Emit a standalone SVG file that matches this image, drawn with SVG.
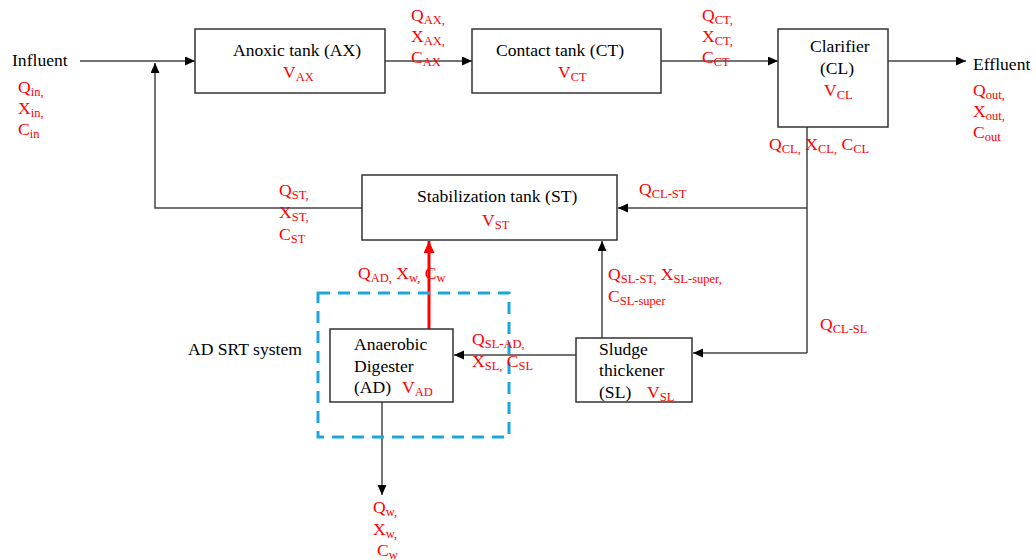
<svg xmlns="http://www.w3.org/2000/svg" width="1036" height="560" viewBox="0 0 1036 560">
<defs>
<style>
text{font-family:"Liberation Serif","Times New Roman",serif;font-size:17.6px;fill:#000}
.r{fill:#ff0000}
.s{font-size:12.5px}
.box{fill:#fff;stroke:#333;stroke-width:1.5}
.ln{fill:none;stroke:#444;stroke-width:1.5}
</style>
<marker id="ah" markerWidth="11" markerHeight="10" refX="10" refY="4.5" orient="auto" markerUnits="userSpaceOnUse">
<path d="M0,0 L10,4.5 L0,9 z" fill="#000"/>
</marker>
<marker id="ahr" markerWidth="13" markerHeight="12" refX="12" refY="5.5" orient="auto" markerUnits="userSpaceOnUse">
<path d="M0,0 L12,5.5 L0,11 z" fill="#ff0000"/>
</marker>
</defs>
<rect width="1036" height="560" fill="#fff"/>

<g id="connectors">
<line class="ln" x1="80" y1="61" x2="195" y2="61" marker-end="url(#ah)"/>
<polyline class="ln" points="362,208 155,208 155,63" marker-end="url(#ah)"/>
<line class="ln" x1="385" y1="61" x2="472" y2="61" marker-end="url(#ah)"/>
<line class="ln" x1="661" y1="61" x2="778" y2="61" marker-end="url(#ah)"/>
<line class="ln" x1="888" y1="61" x2="966" y2="61" marker-end="url(#ah)"/>
<line class="ln" x1="807" y1="127" x2="807" y2="353"/>
<line class="ln" x1="807" y1="208" x2="618" y2="208" marker-end="url(#ah)"/>
<line class="ln" x1="807" y1="353" x2="693" y2="353" marker-end="url(#ah)"/>
<line class="ln" x1="602" y1="338" x2="602" y2="241" marker-end="url(#ah)"/>
<line class="ln" x1="576" y1="355" x2="454" y2="355" marker-end="url(#ah)"/>
<line x1="429" y1="329" x2="429" y2="241" stroke="#ff0000" stroke-width="3" marker-end="url(#ahr)"/>
<line class="ln" x1="382" y1="402" x2="382" y2="495" marker-end="url(#ah)"/>
</g>

<g id="ad-srt-system">
<rect x="318" y="293" width="191" height="144" fill="none" stroke="#1aa7e0" stroke-width="3" stroke-dasharray="12,8"/>
<text x="188" y="355">AD SRT system</text>
</g>

<g id="influent">
<text x="12" y="66">Influent</text>
<text class="r" x="18" y="93">Q<tspan class="s" dy="3">in,</tspan></text>
<text class="r" x="18" y="114">X<tspan class="s" dy="3">in,</tspan></text>
<text class="r" x="18" y="135">C<tspan class="s" dy="3">in</tspan></text>
</g>

<g id="ax">
<rect class="box" x="195" y="29" width="190" height="64"/>
<text x="233" y="56">Anoxic tank (AX)</text>
<text class="r" x="283" y="78">V<tspan class="s" dy="3">AX</tspan></text>
</g>

<g id="ax-out">
<text class="r" x="411" y="21">Q<tspan class="s" dy="3">AX,</tspan></text>
<text class="r" x="411" y="42">X<tspan class="s" dy="3">AX,</tspan></text>
<text class="r" x="411" y="63">C<tspan class="s" dy="3">AX</tspan></text>
</g>

<g id="ct">
<rect class="box" x="472" y="29" width="189" height="64"/>
<text x="496" y="56">Contact tank (CT)</text>
<text class="r" x="558" y="78">V<tspan class="s" dy="3">CT</tspan></text>
</g>

<g id="ct-out">
<text class="r" x="702" y="21">Q<tspan class="s" dy="3">CT,</tspan></text>
<text class="r" x="702" y="42">X<tspan class="s" dy="3">CT,</tspan></text>
<text class="r" x="702" y="63">C<tspan class="s" dy="3">CT</tspan></text>
</g>

<g id="cl">
<rect class="box" x="778" y="29" width="110" height="98"/>
<text x="810" y="52">Clarifier</text>
<text x="820" y="74">(CL)</text>
<text class="r" x="824" y="96">V<tspan class="s" dy="3">CL</tspan></text>
<text class="r" x="769" y="150">Q<tspan class="s" dy="3">CL,</tspan><tspan dy="-3"> X</tspan><tspan class="s" dy="3">CL,</tspan><tspan dy="-3"> C</tspan><tspan class="s" dy="3">CL</tspan></text>
</g>

<g id="effluent">
<text x="973" y="70">Effluent</text>
<text class="r" x="973" y="96">Q<tspan class="s" dy="3">out,</tspan></text>
<text class="r" x="973" y="117">X<tspan class="s" dy="3">out,</tspan></text>
<text class="r" x="973" y="138">C<tspan class="s" dy="3">out</tspan></text>
</g>

<g id="st">
<rect class="box" x="362" y="175" width="255" height="65"/>
<text x="417" y="202">Stabilization tank (ST)</text>
<text class="r" x="482" y="226">V<tspan class="s" dy="3">ST</tspan></text>
</g>

<g id="st-out">
<text class="r" x="279" y="196">Q<tspan class="s" dy="3">ST,</tspan></text>
<text class="r" x="279" y="218">X<tspan class="s" dy="3">ST,</tspan></text>
<text class="r" x="279" y="240">C<tspan class="s" dy="3">ST</tspan></text>
</g>

<g id="cl-st">
<text class="r" x="639" y="195">Q<tspan class="s" dy="3">CL-ST</tspan></text>
</g>

<g id="cl-sl">
<text class="r" x="820" y="330">Q<tspan class="s" dy="3">CL-SL</tspan></text>
</g>

<g id="sl-st">
<text class="r" x="608" y="280">Q<tspan class="s" dy="3">SL-ST,</tspan><tspan dy="-3"> X</tspan><tspan class="s" dy="3">SL-super,</tspan></text>
<text class="r" x="608" y="302">C<tspan class="s" dy="3">SL-super</tspan></text>
</g>

<g id="ad-st">
<text class="r" x="358" y="279">Q<tspan class="s" dy="3">AD,</tspan><tspan dy="-3"> X</tspan><tspan class="s" dy="3">w,</tspan><tspan dy="-3"> C</tspan><tspan class="s" dy="3">w</tspan></text>
</g>

<g id="ad">
<rect class="box" x="330" y="329" width="123" height="73"/>
<text x="354" y="350">Anaerobic</text>
<text x="354" y="372">Digester</text>
<text x="354" y="393">(AD)</text>
<text class="r" x="402" y="393">V<tspan class="s" dy="3">AD</tspan></text>
</g>

<g id="sl-ad">
<text class="r" x="472" y="345">Q<tspan class="s" dy="3">SL-AD,</tspan></text>
<text class="r" x="472" y="367">X<tspan class="s" dy="3">SL,</tspan><tspan dy="-3"> C</tspan><tspan class="s" dy="3">SL</tspan></text>
</g>

<g id="sl">
<rect class="box" x="576" y="338" width="116" height="64"/>
<text x="599" y="355">Sludge</text>
<text x="599" y="376">thickener</text>
<text x="599" y="398">(SL)</text>
<text class="r" x="647" y="398">V<tspan class="s" dy="3">SL</tspan></text>
</g>

<g id="waste">
<text class="r" x="373" y="513">Q<tspan class="s" dy="3">w,</tspan></text>
<text class="r" x="373" y="535">X<tspan class="s" dy="3">w,</tspan></text>
<text class="r" x="377" y="556">C<tspan class="s" dy="3">w</tspan></text>
</g>
</svg>
